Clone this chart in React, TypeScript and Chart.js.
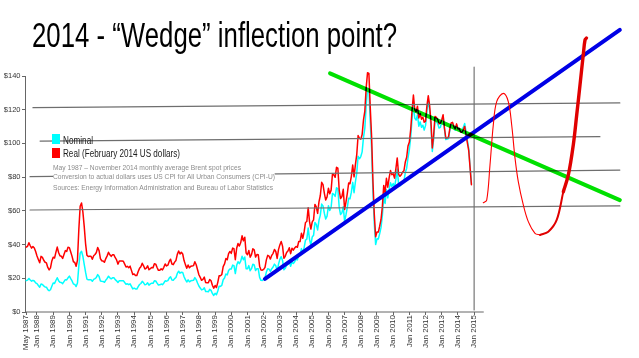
import React, { useEffect, useLayoutEffect, useRef } from "react";
import { Chart, registerables } from "chart.js";

Chart.register(...registerables);

// ---------------- DATA ----------------
// Monthly Brent spot price, May 1987 – Nov 2014 (nominal US$)
const nominal: number[] = [
  18.6, 18.9, 19.9, 19.0, 18.3, 18.8, 18.4, 17.3,
  16.8, 15.7, 14.7, 16.6, 16.3, 15.5, 14.8, 14.7, 13.3, 12.6, 13.2, 15.3,
  17.2, 16.9, 18.7, 20.3, 18.6, 17.7, 17.5, 16.8, 18.0, 19.2, 19.0, 20.3,
  21.3, 19.8, 18.4, 16.6, 16.4, 15.1, 17.2, 27.2, 34.9, 36.0, 33.1, 28.3,
  23.6, 19.5, 19.1, 19.2, 19.2, 18.2, 19.4, 19.8, 20.5, 22.2, 21.1, 18.4,
  18.2, 18.1, 17.6, 18.9, 19.9, 21.2, 20.3, 19.7, 20.3, 20.3, 19.2, 18.5,
  17.5, 18.6, 18.6, 18.6, 18.6, 17.5, 16.5, 16.7, 16.2, 16.7, 15.2, 13.7,
  14.2, 13.7, 13.6, 15.1, 16.3, 16.9, 18.2, 17.3, 16.1, 16.4, 17.3, 15.9,
  16.7, 17.1, 17.0, 18.5, 18.4, 17.1, 16.0, 16.1, 16.6, 16.2, 17.2, 18.5,
  18.3, 18.6, 20.1, 20.9, 19.0, 18.8, 19.8, 20.5, 22.9, 24.2, 23.0, 23.6,
  23.5, 20.9, 19.2, 17.8, 19.1, 17.9, 18.5, 18.7, 18.8, 20.4, 19.2, 17.2,
  15.4, 14.2, 13.1, 13.4, 14.4, 12.1, 12.1, 12.0, 13.4, 12.8, 11.0, 9.8,
  11.1, 10.3, 12.5, 15.3, 15.2, 15.9, 19.1, 20.2, 22.5, 22.0, 24.6, 25.5,
  25.5, 27.8, 27.5, 22.8, 27.7, 29.8, 28.7, 30.2, 33.1, 31.0, 32.6, 25.7,
  25.6, 27.5, 24.5, 25.7, 28.3, 27.9, 24.6, 25.7, 25.6, 20.5, 18.8, 18.7,
  19.4, 20.3, 23.7, 25.7, 25.4, 24.1, 25.7, 26.7, 28.4, 27.5, 24.3, 28.3,
  31.2, 32.8, 30.6, 25.0, 25.9, 27.7, 28.4, 29.9, 27.1, 29.6, 28.8, 29.8,
  31.3, 30.9, 33.6, 33.6, 37.6, 35.2, 38.2, 42.7, 43.2, 49.8, 43.1, 39.6,
  44.5, 45.5, 53.1, 51.9, 48.7, 54.4, 57.5, 64.0, 62.9, 58.5, 55.2, 56.9,
  63.0, 60.2, 62.1, 70.3, 69.8, 68.6, 73.7, 73.2, 62.0, 57.8, 58.8, 62.5,
  53.7, 57.6, 62.1, 67.5, 67.2, 71.1, 76.9, 70.8, 77.2, 82.3, 92.4, 90.9,
  92.2, 95.0, 103.6, 109.1, 122.8, 132.3, 132.7, 113.2, 97.2, 71.6, 52.5, 40.0,
  43.4, 43.3, 46.5, 50.2, 57.3, 68.6, 64.4, 72.5, 67.7, 72.8, 76.7, 74.5,
  76.2, 73.8, 78.8, 84.8, 76.0, 74.8, 75.6, 77.0, 77.8, 82.7, 85.3, 91.5,
  96.5, 103.7, 114.6, 123.3, 115.0, 113.8, 117.0, 110.2, 112.8, 109.6, 110.8, 107.9,
  110.7, 119.3, 125.5, 119.8, 110.3, 95.2, 102.6, 113.4, 112.9, 111.7, 109.1, 109.5,
  113.0, 116.1, 108.5, 102.3, 102.6, 102.9, 107.9, 111.3, 111.6, 109.1, 107.8, 110.8,
  108.1, 108.9, 107.5, 107.8, 109.5, 111.8, 106.8, 101.6, 97.1, 86.0, 76.0,
];

// Same months, real (February 2014 US dollars)
const real: number[] = [
  38.5, 39.0, 41.1, 39.3, 37.9, 38.8, 38.0, 35.9,
  33.2, 31.2, 29.2, 33.0, 32.4, 30.7, 29.5, 29.1, 26.4, 25.0, 26.2, 30.3,
  32.5, 32.0, 35.4, 38.5, 35.3, 33.4, 33.1, 31.8, 34.1, 36.4, 35.9, 38.4,
  38.2, 35.6, 33.0, 29.8, 29.4, 27.1, 30.8, 48.8, 62.7, 64.7, 59.4, 50.8,
  40.6, 33.7, 32.9, 33.1, 33.1, 31.3, 33.4, 34.1, 35.3, 38.3, 36.4, 31.7,
  30.4, 30.2, 29.5, 31.7, 33.3, 35.4, 33.9, 33.0, 33.9, 33.9, 32.2, 30.9,
  28.4, 30.3, 30.2, 30.3, 30.1, 28.4, 26.7, 27.1, 26.3, 27.2, 24.7, 22.3,
  22.5, 21.6, 21.6, 24.0, 25.9, 26.8, 28.9, 27.4, 25.5, 26.0, 27.4, 25.1,
  25.7, 26.4, 26.2, 28.6, 28.4, 26.4, 24.7, 24.8, 25.6, 25.0, 26.5, 28.5,
  27.3, 27.8, 30.0, 31.3, 28.5, 28.1, 29.6, 30.6, 34.2, 36.2, 34.4, 35.4,
  34.4, 30.5, 28.1, 26.0, 27.9, 26.2, 27.1, 27.3, 27.5, 29.8, 28.0, 25.1,
  22.1, 20.5, 18.8, 19.3, 20.7, 17.5, 17.4, 17.3, 19.3, 18.5, 15.9, 14.1,
  15.7, 14.5, 17.6, 21.5, 21.5, 22.3, 26.9, 28.5, 31.7, 31.0, 34.6, 35.9,
  34.8, 37.9, 37.5, 31.0, 37.8, 40.6, 39.1, 41.2, 45.2, 42.2, 44.4, 35.0,
  34.0, 36.5, 32.5, 34.0, 37.5, 36.9, 32.6, 34.1, 34.0, 27.2, 24.9, 24.8,
  25.3, 26.5, 30.9, 33.6, 33.1, 31.4, 33.6, 34.8, 37.1, 35.9, 31.8, 37.0,
  39.8, 41.8, 39.1, 31.9, 33.0, 35.3, 36.2, 38.1, 34.6, 37.8, 36.7, 38.0,
  38.9, 38.4, 41.8, 41.8, 46.7, 43.7, 47.5, 53.1, 53.7, 61.9, 53.6, 49.2,
  53.5, 54.7, 63.8, 62.4, 58.5, 65.3, 69.1, 76.9, 75.6, 70.4, 66.4, 68.3,
  73.4, 70.1, 72.3, 81.9, 81.3, 79.9, 85.8, 85.3, 72.2, 67.3, 68.5, 72.8,
  60.8, 65.2, 70.3, 76.5, 76.1, 80.5, 87.2, 80.2, 87.4, 93.3, 104.7, 103.0,
  102.5, 105.3, 114.0, 119.2, 133.1, 142.0, 141.6, 121.4, 104.3, 77.6, 58.0, 44.6,
  47.5, 47.4, 50.9, 54.9, 62.7, 75.1, 70.5, 79.3, 74.0, 79.6, 83.9, 81.5,
  82.0, 79.4, 84.9, 91.4, 81.8, 80.5, 81.4, 83.0, 83.8, 89.0, 91.8, 98.5,
  100.8, 108.3, 119.7, 128.7, 120.0, 118.8, 122.1, 115.1, 117.8, 114.4, 115.6, 112.6,
  113.2, 122.1, 128.3, 122.5, 112.9, 97.3, 105.0, 116.0, 115.5, 114.3, 111.6, 112.0,
  113.9, 117.0, 109.3, 103.1, 103.4, 103.7, 108.8, 112.2, 112.5, 110.0, 108.7, 111.6,
  108.6, 108.9, 106.8, 106.7, 108.1, 110.1, 105.2, 100.3, 95.7, 85.5, 75.5,
];

const startYear = 1987;
const startMonth = 4; // May (0-based)

const tickPositions: number[] = [
  1987.333, 1988, 1989, 1990, 1991, 1992, 1993, 1994, 1995, 1996, 1997, 1998,
  1999, 2000, 2001, 2002, 2003, 2004, 2005, 2006, 2007, 2008, 2009, 2010,
  2011, 2012, 2013, 2014, 2015,
];
const tickLabels: string[] = [
  "May 1987", "Jan 1988", "Jan 1989", "Jan 1990", "Jan 1991", "Jan 1992",
  "Jan 1993", "Jan 1994", "Jan 1995", "Jan 1996", "Jan 1997", "Jan 1998",
  "Jan 1999", "Jan 2000", "Jan 2001", "Jan 2002", "Jan 2003", "Jan 2004",
  "Jan 2005", "Jan 2006", "Jan 2007", "Jan 2008", "Jan 2009", "Jan 2010",
  "Jan 2011", "Jan 2012", "Jan 2013", "Jan 2014", "Jan 2015",
];

// Annotation lines, in [year, dollars]
const grayLine120: number[][] = [[1987.75, 121.2], [2024.0, 124.0]];
const grayLine100: number[][] = [[1988.19, 101.4], [2022.77, 104.0]];
const grayLine80: number[][] = [[1987.57, 80.3], [2024.0, 84.2]];
const grayLine60: number[][] = [[1987.57, 60.5], [2024.0, 62.9]];
const markerJan2015: number[][] = [[2015.0, 145.3], [2015.0, 1.2]];
const blueTrend: number[][] = [[2002.08, 19.6], [2024.0, 167.3]];
const greenTrend: number[][] = [[2006.1, 141.6], [2024.0, 66.4]];
const axisBase: number[][] = [[1987.259, 0], [2015.57, 0]];

// Hand-drawn forecast curve
const sketchThin: number[][] = [
  [2015.566, 64.8], [2015.777, 66.4], [2015.98, 87.2], [2016.184, 110.9],
  [2016.394, 124.8], [2016.802, 129.7], [2017.11, 124.8], [2017.32, 110.9],
  [2017.524, 91.4], [2017.728, 77.3], [2018.037, 63.5], [2018.346, 53.6],
  [2018.76, 46.7], [2019.07, 45.7],
];
const sketchMid: number[][] = [
  [2019.07, 45.7], [2019.58, 47.6], [2020.1, 54.6], [2020.51, 71.4],
];
const sketchThick: number[][] = [
  [2020.51, 71.4], [2020.82, 81.3], [2021.125, 99.1], [2021.336, 116.9],
  [2021.54, 134.7], [2021.74, 152.5], [2021.85, 161.4], [2021.94, 162.5],
];

// ---------------- HELPERS ----------------
const pts = (arr: number[][]) => arr.map(([x, y]) => ({ x, y }));
const monthly = (arr: number[]) =>
  arr.map((v, i) => ({ x: startYear + (startMonth + i) / 12, y: v }));

const TICK_FONT = "'Liberation Sans Narrow', 'Liberation Sans', Arial, sans-serif";

function FitText(props: {
  text: string; left: number; baseline: number; width: number; size: number;
  color: string; bg?: string;
}) {
  const ref = useRef<HTMLSpanElement>(null);
  useLayoutEffect(() => {
    const el = ref.current;
    if (!el) return;
    el.style.transform = "none";
    const w = el.getBoundingClientRect().width;
    if (w > 0) el.style.transform = `scaleX(${props.width / w})`;
  }, [props.text, props.width, props.size]);
  return (
    <span
      ref={ref}
      style={{
        position: "absolute",
        left: props.left,
        top: props.baseline - 0.8465 * props.size,
        fontSize: props.size,
        lineHeight: `${props.size}px`,
        fontFamily: "'Liberation Sans', Arial, sans-serif",
        color: props.color,
        whiteSpace: "nowrap",
        transformOrigin: "0 0",
        background: props.bg,
      }}
    >
      {props.text}
    </span>
  );
}

const multiplyPlugin = {
  id: "multiplyBlend",
  beforeDatasetDraw(chart: any, args: any) {
    const ds = chart.data.datasets[args.index];
    if (ds && ds.blend) {
      chart.ctx.save();
      chart.ctx.globalCompositeOperation = ds.blend;
    }
  },
  afterDatasetDraw(chart: any, args: any) {
    const ds = chart.data.datasets[args.index];
    if (ds && ds.blend) chart.ctx.restore();
  },
};

export default function App() {
  const canvasRef = useRef<HTMLCanvasElement>(null);

  useEffect(() => {
    if (!canvasRef.current) return;
    const line = (data: any[], color: string, width: number, order: number, extra: any = {}) => ({
      data,
      borderColor: color,
      backgroundColor: color,
      borderWidth: width,
      pointRadius: 0,
      tension: 0,
      fill: false,
      order,
      clip: false as any,
      borderCapStyle: "round",
      borderJoinStyle: "round",
      ...extra,
    });
    const grayC = "#6e6e6e";
    const chart = new Chart(canvasRef.current, {
      type: "line",
      data: {
        datasets: [
          line(pts(sketchThick), "#e00000", 3.4, 0, { tension: 0.35 }),
          line(pts(sketchMid), "#e00000", 2, 0, { tension: 0.35 }),
          line(pts(sketchThin), "#ff0000", 1.1, 0, { tension: 0.35 }),
          line(pts(greenTrend), "#00e000", 4, 1, { blend: "multiply" }),
          line(pts(blueTrend), "#0000e6", 4, 2),
          line(pts(grayLine120), grayC, 1.2, 3),
          line(pts(grayLine100), grayC, 1.2, 3),
          line(pts(grayLine80), grayC, 1.2, 3),
          line(pts(grayLine60), grayC, 1.2, 3),
          line(pts(markerJan2015), "#777777", 1.2, 3),
          line(monthly(real), "#ff0000", 1.5, 4),
          line(monthly(nominal), "#00ffff", 1.5, 5),
          line(pts(axisBase), "#666666", 1, 6),
        ] as any,
      },
      options: {
        animation: false,
        responsive: false,
        events: [],
        layout: { padding: { top: 76, right: 19, left: 0, bottom: 0 } },
        plugins: { legend: { display: false }, tooltip: { enabled: false }, title: { display: false } },
        scales: {
          x: {
            type: "linear",
            min: 1987.259,
            max: 2024.01,
            afterFit: (s: any) => { s.height = 46; },
            afterBuildTicks: (s: any) => { s.ticks = tickPositions.map((v) => ({ value: v })); },
            ticks: {
              autoSkip: false,
              minRotation: 90,
              maxRotation: 90,
              padding: 0,
              color: "#333333",
              font: { size: 8, family: TICK_FONT },
              callback: (_v: any, i: number) => tickLabels[i],
            },
            grid: { display: true, drawOnChartArea: false, drawTicks: true, tickLength: 3, color: "#666666" },
            border: { display: false },
          },
          y: {
            min: 0,
            max: 140,
            afterFit: (s: any) => { s.width = 25; },
            ticks: {
              stepSize: 20,
              padding: 1.5,
              color: "#333333",
              font: { size: 7.5, family: TICK_FONT },
              callback: (v: any) => "$" + v,
            },
            grid: { display: true, drawOnChartArea: false, drawTicks: true, tickLength: 3, color: "#666666" },
            border: { display: true, color: "#666666", width: 1 },
          },
        },
      } as any,
      plugins: [multiplyPlugin],
    });
    return () => chart.destroy();
  }, []);

  return (
    <div style={{ position: "fixed", left: 0, top: 0, width: 639, height: 358, background: "#ffffff", overflow: "hidden" }}>
      <canvas ref={canvasRef} width={639} height={358} style={{ position: "absolute", left: 0, top: 0 }} />
      <FitText text="2014 - “Wedge” inflection point?" left={32} baseline={47} width={365} size={35} color="#000000" />
      <div style={{ position: "absolute", left: 52, top: 134, width: 8, height: 9.5, background: "#00ffff" }} />
      <div style={{ position: "absolute", left: 52, top: 148, width: 8, height: 9.5, background: "#ff0000" }} />
      <FitText text="Nominal" left={63.3} baseline={144} width={30} size={10} color="#1a1a1a" />
      <FitText text="Real (February 2014 US dollars)" left={63.3} baseline={157.5} width={117} size={10} color="#1a1a1a" />
      <FitText text="May 1987 – November 2014 monthly average Brent spot prices" left={52.7} baseline={170.3} width={188} size={8} color="#8c8c8c" />
      <FitText text="Conversion to actual dollars uses US CPI for All Urban Consumers (CPI-U)" left={52.7} baseline={180.2} width={222} size={8} color="#8c8c8c" bg="#ffffff" />
      <FitText text="Sources: Energy Information Administration and Bureau of Labor Statistics" left={52.7} baseline={190.3} width={220} size={8} color="#8c8c8c" />
    </div>
  );
}
